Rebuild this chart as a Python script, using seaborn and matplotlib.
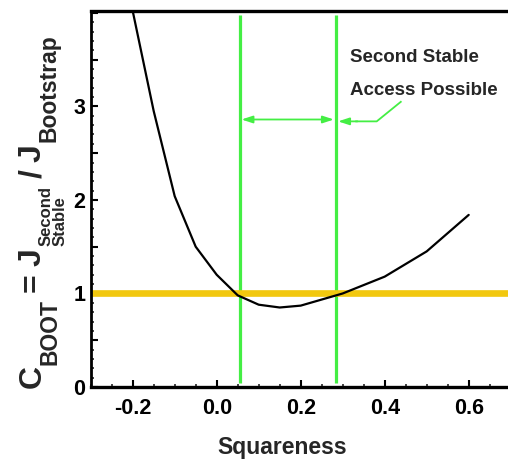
import matplotlib
matplotlib.use("Agg")
import matplotlib.pyplot as plt
from matplotlib.ticker import MultipleLocator, FuncFormatter
import seaborn as sns
import pandas as pd

# C_BOOT versus squareness
squareness = [-0.2, -0.15, -0.1, -0.05, 0.0, 0.05, 0.1, 0.15, 0.2, 0.3, 0.4, 0.5, 0.6]
c_boot = [4.02, 2.95, 2.04, 1.50, 1.20, 0.98, 0.88, 0.85, 0.87, 1.00, 1.18, 1.45, 1.84]

# window where second-stability access is possible
access_bounds = [0.055, 0.283]
threshold = 1.0

note_lines = ["Second Stable", "Access Possible"]

sns.set_theme(style="ticks")
plt.rcParams["font.family"] = ["Liberation Sans", "DejaVu Sans"]
plt.rcParams["font.weight"] = "bold"

W, H = 508, 467
fig = plt.figure(figsize=(W / 100, H / 100), dpi=100)
ax = fig.add_axes([90.7 / W, (H - 387) / H, 428.4 / W, 376 / H])

df = pd.DataFrame({"Squareness": squareness, "C_BOOT": c_boot})

green = "#44ee44"
yellow = "#f2c80f"

ax.vlines(access_bounds, 0.04, 3.98, color=green, lw=2.3, zorder=1)
ax.axhline(threshold, color=yellow, lw=4.8, zorder=2)
sns.lineplot(data=df, x="Squareness", y="C_BOOT", color="black", lw=1.6,
             ax=ax, zorder=3, sort=False)

# double-headed arrow spanning the window
ax.annotate("", xy=(access_bounds[0] + 0.004, 2.86), xytext=(access_bounds[1] - 0.004, 2.86),
            arrowprops=dict(arrowstyle="<|-|>,head_length=0.55,head_width=0.18",
                            color=green, lw=1.3, shrinkA=0, shrinkB=0))
# leader from the note to the right boundary
ax.plot([0.44, 0.381, 0.33], [3.055, 2.84, 2.84], color=green, lw=1.3, solid_capstyle="butt")
ax.annotate("", xy=(access_bounds[1] + 0.006, 2.84), xytext=(0.335, 2.84),
            arrowprops=dict(arrowstyle="-|>,head_length=0.55,head_width=0.18",
                            color=green, lw=1.3, shrinkA=0, shrinkB=0))

for line, yb in zip(note_lines, [3.475, 3.122]):
    ax.text(0.317, yb, line, fontsize=13.5, fontweight="bold", ha="left", va="baseline")

ax.set_xlim(-0.3, 0.72)
ax.set_ylim(0, 4.02)

ax.xaxis.set_major_locator(MultipleLocator(0.2))
ax.xaxis.set_minor_locator(MultipleLocator(0.05))
ax.xaxis.set_major_formatter(FuncFormatter(lambda v, p: f"{v:.1f}" if abs(v) > 1e-9 else "0.0"))
ax.yaxis.set_major_locator(MultipleLocator(0.5))
ax.yaxis.set_minor_locator(MultipleLocator(0.1))
ax.yaxis.set_major_formatter(FuncFormatter(
    lambda v, p: f"{int(round(v))}" if abs(v - round(v)) < 1e-9 and v < 3.9 else ""))

ax.tick_params(which="major", direction="in", length=5, width=1.5, labelsize=15.5, colors="black")
ax.tick_params(which="minor", direction="in", length=2.5, width=1.2)
ax.tick_params(axis="x", which="major", pad=8)
ax.tick_params(axis="y", which="major", pad=4)
for lbl in ax.get_xticklabels() + ax.get_yticklabels():
    lbl.set_fontweight("bold")

for side in ["top", "bottom"]:
    ax.spines[side].set_linewidth(2.4)
ax.spines["left"].set_linewidth(2.0)
ax.spines["right"].set_visible(False)
for s in ax.spines.values():
    s.set_color("black")

ax.set_xlabel("Squareness", fontsize=16.5, fontweight="bold")
ax.xaxis.set_label_coords((282 - 90.7) / 428.4, -0.13)
ax.set_ylabel("")

# vertical quantity label, built piece by piece (rotated, reading upward)
renderer = fig.canvas.get_renderer()
pieces = [
    # text, size, x position (px), vertical alignment, gap after (px)
    ("C", 23, 41, "baseline", 0),
    ("BOOT", 16.5, 57, "baseline", 7),
    ("=", 23, 41, "baseline", 7),
    ("J", 23, 41, "baseline", 2),
    ("Second\nStable", 12, 53, "center", 8),
    ("/", 23, 41, "baseline", 8),
    ("J", 23, 41, "baseline", 2),
    ("Bootstrap", 16.5, 56, "baseline", 0),
]
y_cur = H - 388
for text, size, xb, va, gap in pieces:
    t = fig.text(xb / W, y_cur / H, text, fontsize=size, fontweight="bold",
                 rotation=90, rotation_mode="anchor", ha="left", va=va,
                 linespacing=0.95, multialignment="left")
    y_cur = t.get_window_extent(renderer).y1 + gap

fig.savefig("out.png", dpi=100)
